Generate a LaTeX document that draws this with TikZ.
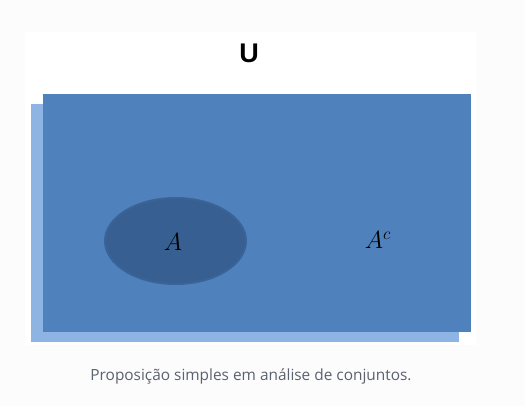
\documentclass[tikz,border=0pt]{standalone}
\usepackage{fontspec}
\newfontfamily\headfont{Liberation Sans}
\newfontfamily\capfont{Open Sans}
\usetikzlibrary{shapes.geometric, positioning}

\definecolor{pagebg}{HTML}{FCFCFC}
\definecolor{univblue}{HTML}{4F81BD}
\definecolor{shadowblue}{HTML}{8EB4E3}
\definecolor{setblue}{HTML}{375F91}
\definecolor{setedge}{HTML}{3B6496}
\definecolor{captiongray}{HTML}{5C6170}

\begin{document}
\begin{tikzpicture}[
    x=1pt, y=-1pt,
    panel/.style={
        rectangle,
        fill=white,
        minimum width=451pt,
        minimum height=313pt,
        inner sep=0pt
    },
    univbox/.style={
        rectangle,
        fill=univblue,
        minimum width=428pt,
        minimum height=238pt,
        inner sep=0pt
    },
    shadowbox/.style={
        univbox,
        fill=shadowblue
    },
    setnode/.style={
        ellipse,
        fill=setblue,
        draw=setedge,
        line width=2pt,
        minimum width=141pt,
        minimum height=86pt,
        inner sep=0pt
    },
    setlabel/.style={
        font=\fontsize{25}{28}\selectfont
    }
]

    % Canvas
    \fill[pagebg] (0,0) rectangle (525,406);
    \useasboundingbox (0,0) rectangle (525,406);

    % Boxes
    \node[panel] (panel) at (250.5,188.5) {};
    \node[shadowbox] (shadow) at (244.5,223) {};
    \node[univbox] (univ) at (257,213) {};

    % Title
    \node[font=\headfont\bfseries\fontsize{27}{30}\selectfont] (title) at (249,53) {U};

    % Set and complement
    \node[setnode] (setA) at (175.5,241) {};
    \node[setlabel] (labA) at (173,242) {$A$};
    \node[setlabel] (labAc) at (378,240) {$A^{\mbox{\fontsize{19}{20}\selectfont$c$}}$};

    % Caption
    \node[font=\capfont\fontsize{15.4}{18}\selectfont, text=captiongray] (caption) at (251,376) {Proposição simples em análise de conjuntos.};

\end{tikzpicture}
\end{document}
